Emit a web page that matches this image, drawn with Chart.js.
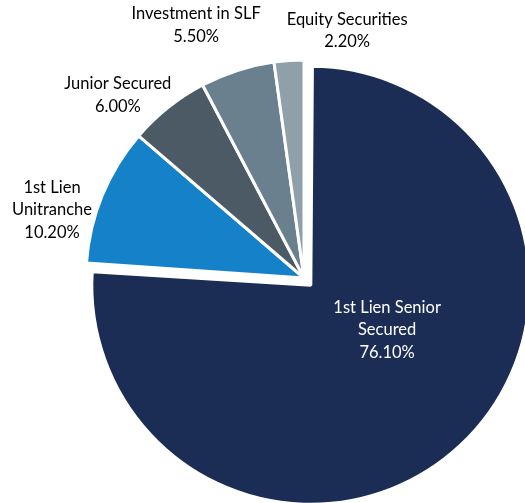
<!DOCTYPE html>
<html>
<head>
<meta charset="utf-8">
<script src="https://cdn.jsdelivr.net/npm/chart.js@4/dist/chart.umd.min.js"></script>
<style>
  html, body { margin: 0; padding: 0; background: #fff; overflow: hidden; }
  #wrap { position: absolute; left: 0; top: 0; width: 608px; height: 556px; }
</style>
</head>
<body>
<div id="wrap"><canvas id="mix_chart" width="608" height="556"></canvas></div>
<script>
// portfolio mix
var categories = ['1st Lien Senior Secured', '1st Lien Unitranche', 'Junior Secured', 'Investment in SLF', 'Equity Securities'];
var shares = [76.1, 10.2, 6.0, 5.5, 2.2];
var labelLines = [
    ['1st Lien Senior', 'Secured'],
    ['1st Lien', 'Unitranche'],
    ['Junior Secured'],
    ['Investment in SLF'],
    ['Equity Securities']
];

var colors = ['#1b2d55', '#1581c8', '#4b5a64', '#6b808e', '#8fa0ab'];
var textColors = ['#ffffff', '#000000', '#000000', '#000000', '#000000'];
// where each label sits: angle (deg, clockwise from top) and distance from the pie centre
var labelPlace = [[122, 98], [285.1, 261], [314.5, 261], [336.9, 275], [9.9, 251]];

var pieRadius = 218;
var bigRadius = 219;
var pullOut = 40; // chart.js moves an arc by offset/4

var pieLabels = {
    id: 'pieLabels',
    afterDatasetUpdate: function(chart) {
        // the pulled-out arc also grows by offset/4, take that back
        var arc = chart.getDatasetMeta(0).data[0];
        arc.outerRadius = bigRadius - pullOut / 4;
    },
    afterDatasetsDraw: function(chart) {
        var ctx = chart.ctx;
        var meta = chart.getDatasetMeta(0);
        ctx.save();
        ctx.font = '16.5px Lato';
        ctx.textAlign = 'center';
        ctx.textBaseline = 'middle';
        meta.data.forEach(function(arc, i) {
            var a = labelPlace[i][0] * Math.PI / 180;
            var cx = arc.x + Math.sin(a) * labelPlace[i][1];
            var cy = arc.y - Math.cos(a) * labelPlace[i][1];
            var lines = labelLines[i].concat([shares[i].toFixed(2) + '%']);
            var lh = 22.5;
            var y0 = cy - (lines.length - 1) * lh / 2;
            ctx.fillStyle = textColors[i];
            lines.forEach(function(t, j) {
                ctx.fillText(t, cx, y0 + j * lh);
            });
        });
        ctx.restore();
    }
};

var ctx = document.getElementById('mix_chart').getContext('2d');
var mixChart = new Chart(ctx, {
    type: 'pie',
    data: {
        labels: categories,
        datasets: [{
            data: shares,
            backgroundColor: colors,
            borderColor: '#ffffff',
            borderWidth: 3,
            offset: [pullOut, 0, 0, 0, 0]
        }]
    },
    options: {
        responsive: false,
        animation: false,
        radius: pieRadius,
        layout: { padding: 0 },
        plugins: {
            legend: { display: false },
            tooltip: { enabled: false }
        }
    },
    plugins: [pieLabels]
});
</script>
</body>
</html>
